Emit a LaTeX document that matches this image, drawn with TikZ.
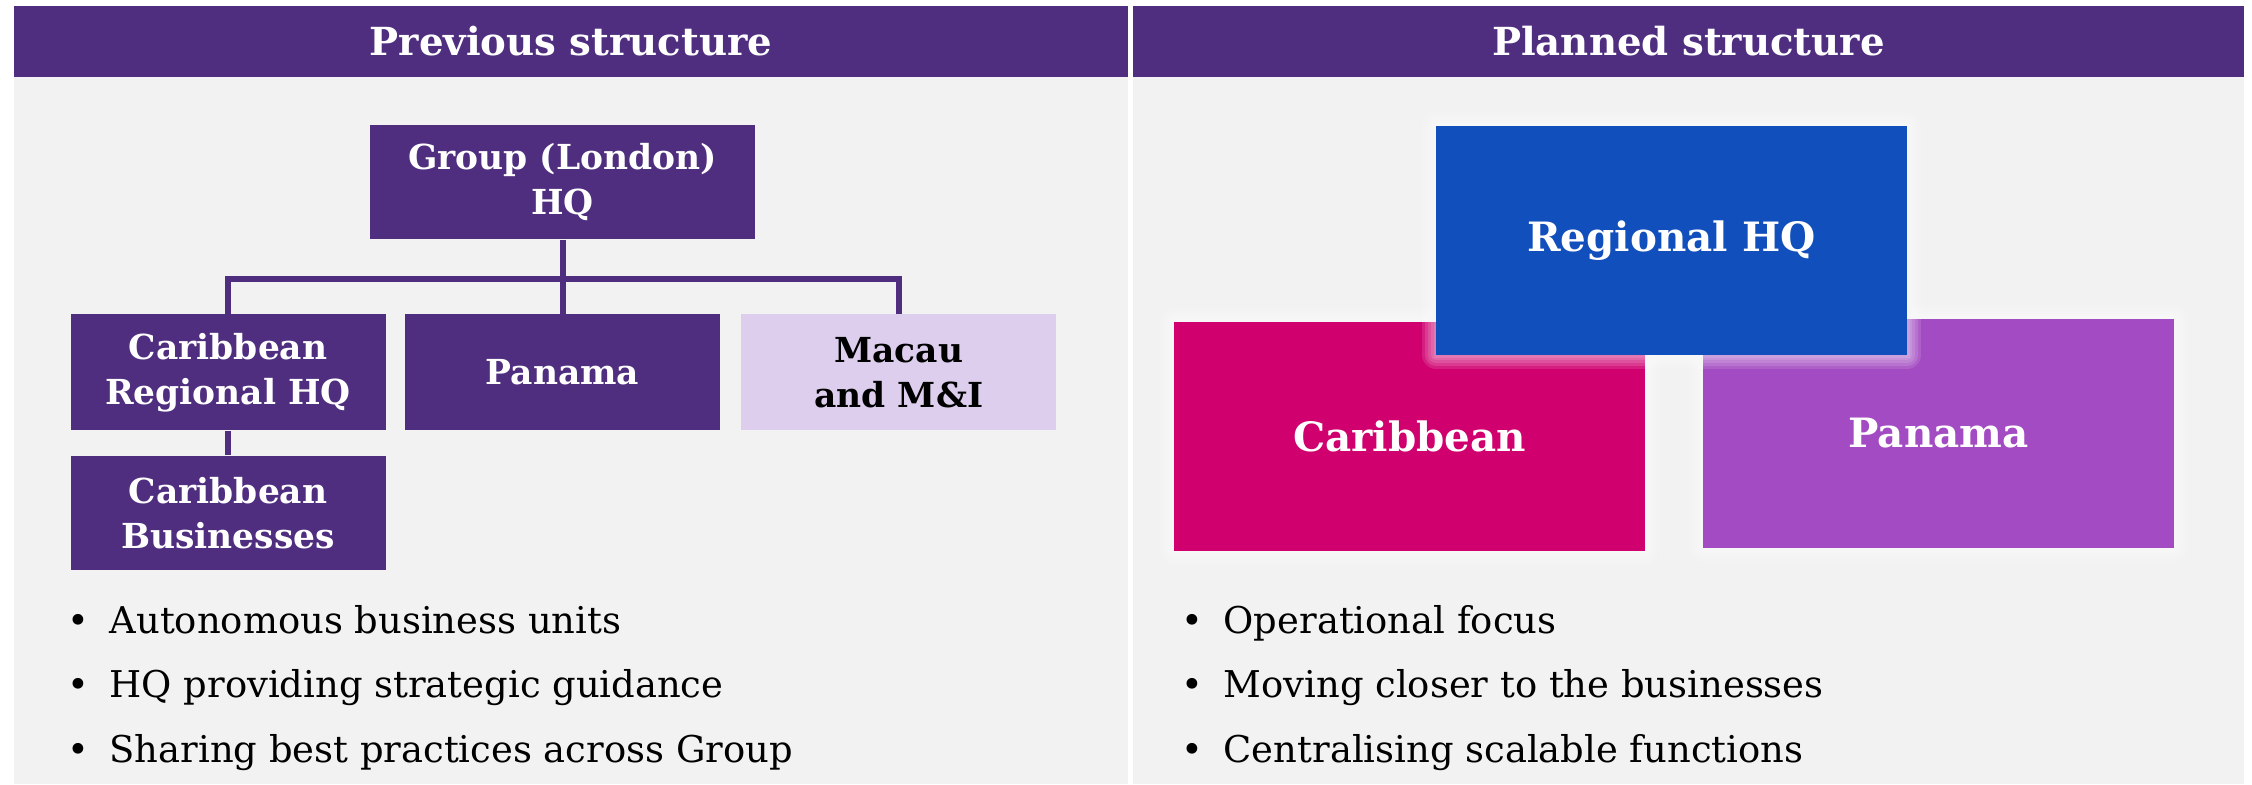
\documentclass[tikz,border=0pt]{standalone}
\usepackage{fontspec}
\setmainfont{DejaVu Serif}
\usepackage{tikz}
\usetikzlibrary{positioning, calc}

\definecolor{hdrpurple}{RGB}{79,45,127}
\definecolor{panelgray}{RGB}{242,242,242}
\definecolor{lavender}{RGB}{220,206,236}
\definecolor{hqblue}{RGB}{17,79,188}
\definecolor{carmagenta}{RGB}{208,0,111}
\definecolor{panpurple}{RGB}{163,75,194}

\begin{document}
\begin{tikzpicture}[
    x=0.1mm, y=-0.1mm,
    header/.style={rectangle, fill=hdrpurple, text=white, minimum height=7.1mm, inner sep=0pt, font=\bfseries\fontsize{11}{13}\selectfont},
    orgbox/.style={rectangle, fill=hdrpurple, text=white, minimum width=31.5mm, minimum height=11.6mm, inner sep=0pt, align=center, font=\bfseries\fontsize{9.8}{12.8}\selectfont},
    glow/.style={preaction={draw=white, draw opacity=0.12, line width=2.8mm, line join=round},
                 preaction={draw=white, draw opacity=0.12, line width=2.2mm, line join=round},
                 preaction={draw=white, draw opacity=0.12, line width=1.6mm, line join=round},
                 preaction={draw=white, draw opacity=0.12, line width=1.0mm, line join=round},
                 preaction={draw=white, draw opacity=0.12, line width=0.5mm}},
    planbox/.style={rectangle, glow, minimum width=47.1mm, minimum height=22.9mm, inner sep=0pt, text=white, font=\bfseries\fontsize{11.5}{14}\selectfont},
    link/.style={draw=hdrpurple, line width=0.6mm},
    bulletitem/.style={anchor=base west, inner sep=0pt, font=\fontsize{10.5}{12}\selectfont}
]
    \useasboundingbox (0,0) rectangle (2252,784);

    % panels and headers
    \fill[panelgray] (14,77) rectangle (1128,784);
    \fill[panelgray] (1133,77) rectangle (2244,784);
    \node[header, minimum width=111.4mm] (prevhdr) at (571,41.5) {Previous structure};
    \node[header, minimum width=111.1mm] (planhdr) at (1688.5,41.5) {Planned structure};

    % previous structure
    \node[orgbox, minimum width=38.5mm, minimum height=11.4mm] (grouphq) at (562.5,182) {Group (London)\\HQ};
    \node[orgbox, below=7.4mm of grouphq] (panama) {Panama};
    \node[orgbox, left=1.8mm of panama] (carhq) {Caribbean\\Regional HQ};
    \node[orgbox, right=2mm of panama, fill=lavender, text=black] (macau) {Macau\\and M\&I};
    \node[orgbox, below=2.4mm of carhq, minimum height=11.4mm] (carbus) {Caribbean\\Businesses};

    \coordinate[below=3.9mm of grouphq] (bus);
    \draw[link] (grouphq) -- (bus);
    \draw[link] (bus) -| (carhq);
    \draw[link] (bus) -| (macau);
    \draw[link] (bus) -- (panama);
    \draw[link] (carhq) -- (carbus);

    \node[bulletitem] (prev1) at (78,633) {\makebox[0pt]{\textbullet}\hspace{3.1mm}Autonomous business units};
    \node[bulletitem] (prev2) at (78,697) {\makebox[0pt]{\textbullet}\hspace{3.1mm}HQ providing strategic guidance};
    \node[bulletitem] (prev3) at (78,762) {\makebox[0pt]{\textbullet}\hspace{3.1mm}Sharing best practices across Group};

    % planned structure
    \node[planbox, fill=carmagenta] (caribbean) at (1409.5,436) {Caribbean};
    \node[planbox, fill=panpurple] (panamab) at (1938.5,433) {Panama};
    \node[planbox, fill=hqblue] (reghq) at (1671.5,240.5) {Regional HQ};

    \node[bulletitem] (plan1) at (1192,633) {\makebox[0pt]{\textbullet}\hspace{3.1mm}Operational focus};
    \node[bulletitem] (plan2) at (1192,697) {\makebox[0pt]{\textbullet}\hspace{3.1mm}Moving closer to the businesses};
    \node[bulletitem] (plan3) at (1192,762) {\makebox[0pt]{\textbullet}\hspace{3.1mm}Centralising scalable functions};
\end{tikzpicture}
\end{document}
